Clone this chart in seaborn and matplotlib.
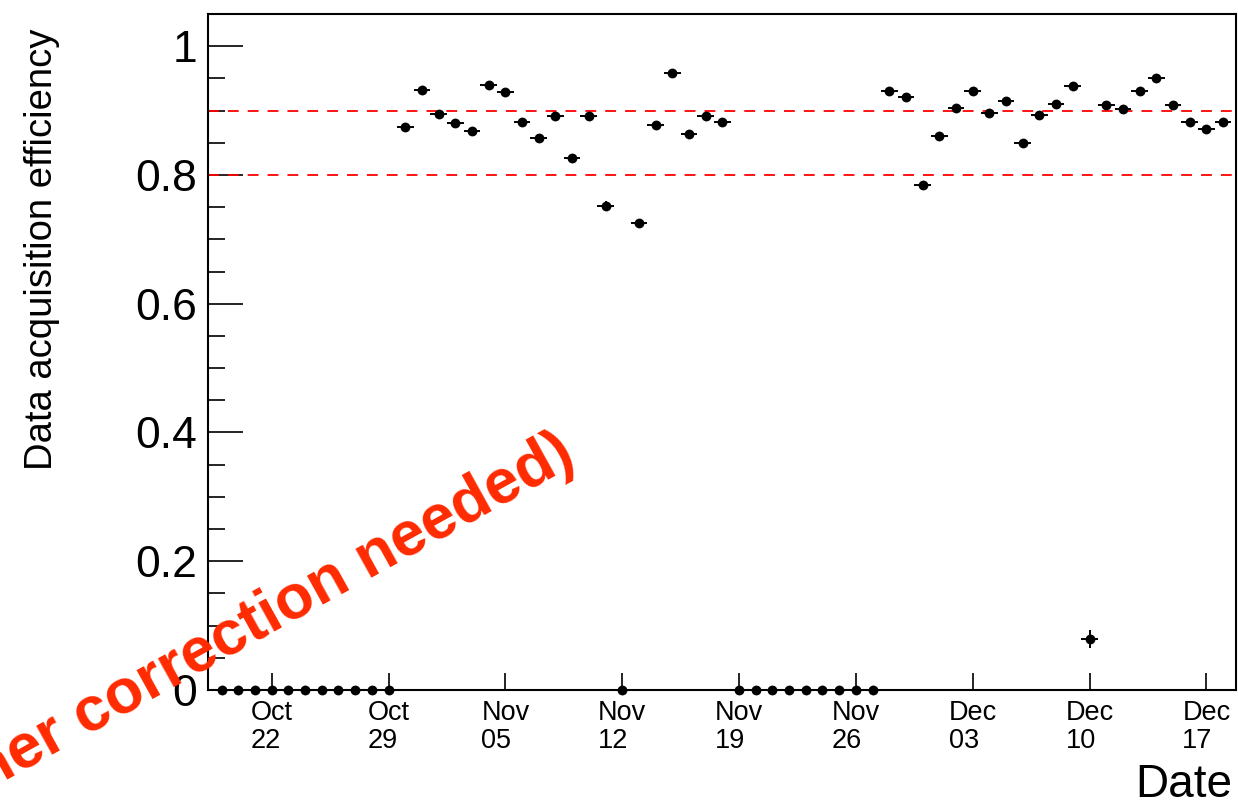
import numpy as np
import pandas as pd
import matplotlib
matplotlib.use("Agg")
import matplotlib.pyplot as plt
import matplotlib.dates as mdates
from matplotlib.ticker import MultipleLocator, FuncFormatter
import seaborn as sns

# ==============================================================================
# daily data acquisition efficiency, one point per day
# ==============================================================================

first_day = "2018-10-19"
last_day = "2018-12-18"

efficiency = [
    # Oct 19 - Oct 29
    0, 0, 0, 0, 0, 0, 0, 0, 0, 0, 0,
    # Oct 30 - Nov 18
    0.875, 0.932, 0.894, 0.880, 0.868, 0.940, 0.929, 0.882, 0.858, 0.891,
    0.827, 0.892, 0.752, 0, 0.725, 0.878, 0.959, 0.863, 0.892, 0.882,
    # Nov 19 - Nov 27
    0, 0, 0, 0, 0, 0, 0, 0, 0,
    # Nov 28 - Dec 18
    0.931, 0.921, 0.784, 0.861, 0.904, 0.930, 0.896, 0.915, 0.850, 0.893,
    0.910, 0.938, 0.079, 0.909, 0.902, 0.931, 0.950, 0.909, 0.883, 0.871,
    0.882,
]

eff_err = [
    0, 0, 0, 0, 0, 0, 0, 0, 0, 0, 0,
    0.003, 0.003, 0.003, 0.003, 0.003, 0.003, 0.003, 0.003, 0.003, 0.003,
    0.003, 0.003, 0.008, 0, 0.004, 0.003, 0.003, 0.003, 0.003, 0.003,
    0, 0, 0, 0, 0, 0, 0, 0, 0,
    0.003, 0.003, 0.004, 0.003, 0.003, 0.003, 0.003, 0.003, 0.003, 0.003,
    0.003, 0.003, 0.014, 0.003, 0.003, 0.003, 0.003, 0.003, 0.003, 0.003,
    0.003,
]

ref_lines = [0.8, 0.9]

ylabel = "Data acquisition efficiency"
xlabel = "Date"
stamp = "(further correction needed)"

days = pd.date_range(first_day, last_day, freq="D")
df = pd.DataFrame({"day": mdates.date2num(days), "eff": efficiency, "err": eff_err})

sns.set_theme(style="ticks", rc={"text.color": "black", "axes.labelcolor": "black",
                                 "xtick.color": "black", "ytick.color": "black"})
plt.rcParams["font.family"] = ["Liberation Sans", "DejaVu Sans"]

fig = plt.figure(figsize=(12.38, 8.05), dpi=100)
ax = fig.add_axes([208 / 1238, 1 - 690 / 805, 1028 / 1238, 676 / 805])

ax.errorbar(df["day"], df["eff"], xerr=0.5, yerr=df["err"], fmt="none",
            ecolor="black", elinewidth=1.4, capsize=0, clip_on=False, zorder=3)
sns.scatterplot(data=df, x="day", y="eff", ax=ax, color="black", s=50,
                edgecolor="black", linewidth=0, clip_on=False, zorder=4)

for lvl in ref_lines:
    ax.axhline(lvl, color="red", lw=1.3, ls=(0, (6, 5)), zorder=2)

ax.set_xlim(mdates.date2num(pd.Timestamp("2018-10-18 04:20")),
            mdates.date2num(pd.Timestamp("2018-12-18 18:40")))
ax.set_ylim(0, 1.05)

ax.xaxis.set_major_locator(mdates.WeekdayLocator(byweekday=mdates.MO))
ax.xaxis.set_major_formatter(mdates.DateFormatter("%b\n%d"))
ax.yaxis.set_major_locator(MultipleLocator(0.2))
ax.yaxis.set_minor_locator(MultipleLocator(0.05))
ax.yaxis.set_major_formatter(FuncFormatter(lambda v, p: f"{v:g}"))

ax.tick_params(axis="y", which="major", direction="in", length=25, width=1.2,
               labelsize=32, pad=8)
ax.tick_params(axis="y", which="minor", direction="in", length=12, width=1.2)
ax.tick_params(axis="x", which="major", direction="in", length=12, width=1.2,
               labelsize=19.5, pad=7)
for lab in ax.get_xticklabels():
    lab.set_multialignment("left")
    lab.set_linespacing(1.1)

for sp in ax.spines.values():
    sp.set_linewidth(1.5)
    sp.set_color("black")

ax.set_xlabel("")
ax.set_ylabel("")
fig.text(42 / 1238, 1 - 29 / 805, ylabel, rotation=90, ha="center", va="top",
         fontsize=27.5)
fig.text(1232 / 1238, 1 - 797 / 805, xlabel, ha="right", va="baseline",
         fontsize=33)
fig.text(578 / 1238, 1 - 463 / 805, stamp, rotation=29, rotation_mode="anchor",
         ha="right", va="baseline", fontsize=45, fontweight="bold",
         color="#ff2a00")

fig.savefig("out.png", dpi=100)
